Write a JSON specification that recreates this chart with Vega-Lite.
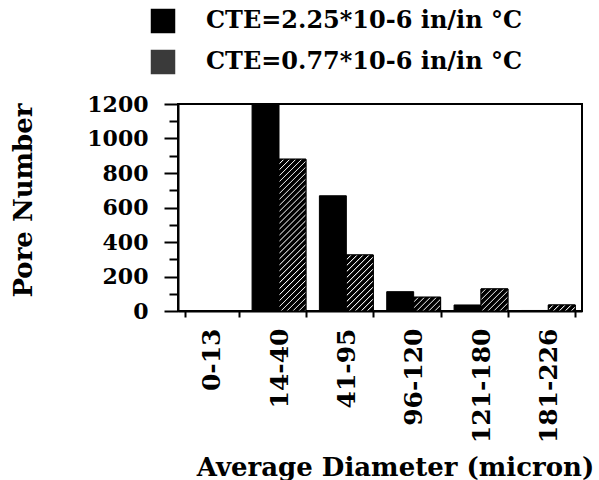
{
  "$schema": "https://vega.github.io/schema/vega-lite/v6.json",
  "width": 404,
  "height": 207,
  "autosize": {"type": "none"},
  "padding": {"left": 178, "top": 104, "right": 17, "bottom": 169},
  "background": "white",
  "config": {
    "font": "DejaVu Serif",
    "view": {"stroke": "black", "strokeWidth": 2},
    "axis": {
      "labelColor": "black",
      "labelFontWeight": "bold",
      "titleColor": "black",
      "titleFontWeight": "bold",
      "domainColor": "black",
      "domainWidth": 2,
      "tickColor": "black",
      "tickWidth": 2,
      "grid": false
    }
  },
  "data": {
    "values": [
      {"range": "0-13", "series": "CTE=2.25*10-6 in/in °C", "count": 0},
      {"range": "0-13", "series": "CTE=0.77*10-6 in/in °C", "count": 0},
      {"range": "14-40", "series": "CTE=2.25*10-6 in/in °C", "count": 1200},
      {"range": "14-40", "series": "CTE=0.77*10-6 in/in °C", "count": 880},
      {"range": "41-95", "series": "CTE=2.25*10-6 in/in °C", "count": 668},
      {"range": "41-95", "series": "CTE=0.77*10-6 in/in °C", "count": 325},
      {"range": "96-120", "series": "CTE=2.25*10-6 in/in °C", "count": 112},
      {"range": "96-120", "series": "CTE=0.77*10-6 in/in °C", "count": 80},
      {"range": "121-180", "series": "CTE=2.25*10-6 in/in °C", "count": 35},
      {"range": "121-180", "series": "CTE=0.77*10-6 in/in °C", "count": 128},
      {"range": "181-226", "series": "CTE=2.25*10-6 in/in °C", "count": 3},
      {"range": "181-226", "series": "CTE=0.77*10-6 in/in °C", "count": 35}
    ]
  },
  "encoding": {
    "x": {
      "field": "range",
      "type": "nominal",
      "scale": {"domain": ["0-13", "14-40", "41-95", "96-120", "121-180", "181-226"], "paddingInner": 0.2, "paddingOuter": 0.1},
      "axis": {
        "tickBand": "extent",
        "labelAngle": 270,
        "labelFontSize": 25,
        "tickSize": 6,
        "labelPadding": 11,
        "title": "Average Diameter (micron)",
        "titleFontSize": 26,
        "titleX": 217,
        "titleY": 164,
        "titleAlign": "center",
        "titleAnchor": "middle",
        "titleBaseline": "alphabetic"
      }
    },
    "xOffset": {"field": "series", "type": "nominal", "scale": {"domain": ["CTE=2.25*10-6 in/in °C", "CTE=0.77*10-6 in/in °C"], "paddingInner": 0}},
    "y": {
      "field": "count",
      "type": "quantitative",
      "scale": {"domain": [0, 1200], "nice": false},
      "axis": {
        "values": [0, 100, 200, 300, 400, 500, 600, 700, 800, 900, 1000, 1100, 1200],
        "labelExpr": "datum.value % 200 === 0 ? datum.label : ''",
        "tickSize": {"condition": {"test": "datum.value % 200 === 0", "value": 14}, "value": 9},
        "labelFontSize": 22,
        "labelPadding": 16,
        "format": "d",
        "title": "Pore Number",
        "titleFontSize": 26,
        "titleX": -147,
        "titleY": 96,
        "titleAlign": "center",
        "titleAnchor": "middle",
        "titleBaseline": "alphabetic"
      }
    }
  },
  "layer": [
    {
      "mark": {"type": "bar", "stroke": "black", "strokeWidth": 1},
      "encoding": {
        "color": {
          "field": "series",
          "type": "nominal",
          "scale": {"domain": ["CTE=2.25*10-6 in/in °C", "CTE=0.77*10-6 in/in °C"], "range": ["black", "#3a3a3a"]},
          "legend": {
            "orient": "none",
            "legendX": -28,
            "legendY": -96,
            "title": null,
            "padding": 0,
            "symbolType": "square",
            "symbolSize": 600,
            "symbolStrokeColor": "black",
            "symbolStrokeWidth": 1,
            "labelFontSize": 24,
            "labelFontWeight": "bold",
            "labelColor": "black",
            "labelOffset": 30,
            "rowPadding": 11,
            "labelLimit": 400,
            "encode": {
              "symbols": {
                "update": {
                  "fill": {
                    "condition": {
                      "test": "datum.value === 'CTE=0.77*10-6 in/in °C'",
                      "value": {
                        "gradient": "linear", "x1": 0, "y1": 0, "x2": 1, "y2": 1,
                        "stops": [
                          {"offset": 0, "color": "black"}, {"offset": 0.0796, "color": "black"}, {"offset": 0.0979, "color": "white"},
                          {"offset": 0.1224, "color": "black"}, {"offset": 0.202, "color": "black"}, {"offset": 0.2203, "color": "white"},
                          {"offset": 0.2448, "color": "black"}, {"offset": 0.3244, "color": "black"}, {"offset": 0.3427, "color": "white"},
                          {"offset": 0.3672, "color": "black"}, {"offset": 0.4468, "color": "black"}, {"offset": 0.4651, "color": "white"},
                          {"offset": 0.4896, "color": "black"}, {"offset": 0.5692, "color": "black"}, {"offset": 0.5875, "color": "white"},
                          {"offset": 0.612, "color": "black"}, {"offset": 0.6916, "color": "black"}, {"offset": 0.7099, "color": "white"},
                          {"offset": 0.7344, "color": "black"}, {"offset": 0.814, "color": "black"}, {"offset": 0.8323, "color": "white"},
                          {"offset": 0.8568, "color": "black"}, {"offset": 0.9364, "color": "black"}, {"offset": 0.9547, "color": "white"},
                          {"offset": 0.9792, "color": "black"}, {"offset": 1, "color": "black"}
                        ]
                      }
                    },
                    "value": "black"
                  }
                }
              }
            }
          }
        }
      }
    },
    {
      "transform": [{"filter": "datum.series === 'CTE=0.77*10-6 in/in °C' && datum.range === '14-40'"}],
      "mark": {
        "type": "bar",
        "stroke": "black",
        "strokeWidth": 1,
        "fill": {
          "gradient": "linear", "x1": 0, "y1": 0, "x2": 0.202, "y2": 1.141,
          "stops": [
            {"offset": 0, "color": "black"}, {"offset": 0.0217, "color": "black"}, {"offset": 0.0267, "color": "white"},
            {"offset": 0.0333, "color": "black"}, {"offset": 0.055, "color": "black"}, {"offset": 0.06, "color": "white"},
            {"offset": 0.0667, "color": "black"}, {"offset": 0.0883, "color": "black"}, {"offset": 0.0933, "color": "white"},
            {"offset": 0.1, "color": "black"}, {"offset": 0.1217, "color": "black"}, {"offset": 0.1267, "color": "white"},
            {"offset": 0.1333, "color": "black"}, {"offset": 0.155, "color": "black"}, {"offset": 0.16, "color": "white"},
            {"offset": 0.1667, "color": "black"}, {"offset": 0.1883, "color": "black"}, {"offset": 0.1933, "color": "white"},
            {"offset": 0.2, "color": "black"}, {"offset": 0.2217, "color": "black"}, {"offset": 0.2267, "color": "white"},
            {"offset": 0.2333, "color": "black"}, {"offset": 0.255, "color": "black"}, {"offset": 0.26, "color": "white"},
            {"offset": 0.2667, "color": "black"}, {"offset": 0.2883, "color": "black"}, {"offset": 0.2933, "color": "white"},
            {"offset": 0.3, "color": "black"}, {"offset": 0.3217, "color": "black"}, {"offset": 0.3267, "color": "white"},
            {"offset": 0.3333, "color": "black"}, {"offset": 0.355, "color": "black"}, {"offset": 0.36, "color": "white"},
            {"offset": 0.3667, "color": "black"}, {"offset": 0.3883, "color": "black"}, {"offset": 0.3933, "color": "white"},
            {"offset": 0.4, "color": "black"}, {"offset": 0.4217, "color": "black"}, {"offset": 0.4267, "color": "white"},
            {"offset": 0.4333, "color": "black"}, {"offset": 0.455, "color": "black"}, {"offset": 0.46, "color": "white"},
            {"offset": 0.4667, "color": "black"}, {"offset": 0.4883, "color": "black"}, {"offset": 0.4933, "color": "white"},
            {"offset": 0.5, "color": "black"}, {"offset": 0.5217, "color": "black"}, {"offset": 0.5267, "color": "white"},
            {"offset": 0.5333, "color": "black"}, {"offset": 0.555, "color": "black"}, {"offset": 0.56, "color": "white"},
            {"offset": 0.5667, "color": "black"}, {"offset": 0.5883, "color": "black"}, {"offset": 0.5933, "color": "white"},
            {"offset": 0.6, "color": "black"}, {"offset": 0.6217, "color": "black"}, {"offset": 0.6267, "color": "white"},
            {"offset": 0.6333, "color": "black"}, {"offset": 0.655, "color": "black"}, {"offset": 0.66, "color": "white"},
            {"offset": 0.6667, "color": "black"}, {"offset": 0.6883, "color": "black"}, {"offset": 0.6933, "color": "white"},
            {"offset": 0.7, "color": "black"}, {"offset": 0.7217, "color": "black"}, {"offset": 0.7267, "color": "white"},
            {"offset": 0.7333, "color": "black"}, {"offset": 0.755, "color": "black"}, {"offset": 0.76, "color": "white"},
            {"offset": 0.7667, "color": "black"}, {"offset": 0.7883, "color": "black"}, {"offset": 0.7933, "color": "white"},
            {"offset": 0.8, "color": "black"}, {"offset": 0.8217, "color": "black"}, {"offset": 0.8267, "color": "white"},
            {"offset": 0.8333, "color": "black"}, {"offset": 0.855, "color": "black"}, {"offset": 0.86, "color": "white"},
            {"offset": 0.8667, "color": "black"}, {"offset": 0.8883, "color": "black"}, {"offset": 0.8933, "color": "white"},
            {"offset": 0.9, "color": "black"}, {"offset": 0.9217, "color": "black"}, {"offset": 0.9267, "color": "white"},
            {"offset": 0.9333, "color": "black"}, {"offset": 0.955, "color": "black"}, {"offset": 0.96, "color": "white"},
            {"offset": 0.9667, "color": "black"}, {"offset": 0.9883, "color": "black"}, {"offset": 0.9933, "color": "white"},
            {"offset": 1, "color": "black"}
          ]
        }
      }
    },
    {
      "transform": [{"filter": "datum.series === 'CTE=0.77*10-6 in/in °C' && datum.range === '41-95'"}],
      "mark": {
        "type": "bar",
        "stroke": "black",
        "strokeWidth": 1,
        "fill": {
          "gradient": "linear", "x1": 0, "y1": 0, "x2": 0.5778, "y2": 1.2028,
          "stops": [
            {"offset": 0, "color": "black"}, {"offset": 0.047, "color": "black"}, {"offset": 0.0578, "color": "white"},
            {"offset": 0.0723, "color": "black"}, {"offset": 0.1193, "color": "black"}, {"offset": 0.1301, "color": "white"},
            {"offset": 0.1446, "color": "black"}, {"offset": 0.1916, "color": "black"}, {"offset": 0.2024, "color": "white"},
            {"offset": 0.2169, "color": "black"}, {"offset": 0.2639, "color": "black"}, {"offset": 0.2747, "color": "white"},
            {"offset": 0.2892, "color": "black"}, {"offset": 0.3362, "color": "black"}, {"offset": 0.347, "color": "white"},
            {"offset": 0.3615, "color": "black"}, {"offset": 0.4085, "color": "black"}, {"offset": 0.4193, "color": "white"},
            {"offset": 0.4338, "color": "black"}, {"offset": 0.4808, "color": "black"}, {"offset": 0.4916, "color": "white"},
            {"offset": 0.5061, "color": "black"}, {"offset": 0.5531, "color": "black"}, {"offset": 0.5639, "color": "white"},
            {"offset": 0.5784, "color": "black"}, {"offset": 0.6254, "color": "black"}, {"offset": 0.6362, "color": "white"},
            {"offset": 0.6507, "color": "black"}, {"offset": 0.6977, "color": "black"}, {"offset": 0.7085, "color": "white"},
            {"offset": 0.723, "color": "black"}, {"offset": 0.77, "color": "black"}, {"offset": 0.7808, "color": "white"},
            {"offset": 0.7953, "color": "black"}, {"offset": 0.8423, "color": "black"}, {"offset": 0.8531, "color": "white"},
            {"offset": 0.8676, "color": "black"}, {"offset": 0.9146, "color": "black"}, {"offset": 0.9254, "color": "white"},
            {"offset": 0.9399, "color": "black"}, {"offset": 0.9869, "color": "black"}, {"offset": 1, "color": "white"}
          ]
        }
      }
    },
    {
      "transform": [{"filter": "datum.series === 'CTE=0.77*10-6 in/in °C' && datum.range === '96-120'"}],
      "mark": {
        "type": "bar",
        "stroke": "black",
        "strokeWidth": 1,
        "fill": {
          "gradient": "linear", "x1": 0, "y1": 0, "x2": 1.198, "y2": 0.6139,
          "stops": [
            {"offset": 0, "color": "black"}, {"offset": 0.0957, "color": "black"}, {"offset": 0.1178, "color": "white"},
            {"offset": 0.1473, "color": "black"}, {"offset": 0.243, "color": "black"}, {"offset": 0.2651, "color": "white"},
            {"offset": 0.2946, "color": "black"}, {"offset": 0.3903, "color": "black"}, {"offset": 0.4124, "color": "white"},
            {"offset": 0.4419, "color": "black"}, {"offset": 0.5376, "color": "black"}, {"offset": 0.5597, "color": "white"},
            {"offset": 0.5892, "color": "black"}, {"offset": 0.6849, "color": "black"}, {"offset": 0.707, "color": "white"},
            {"offset": 0.7365, "color": "black"}, {"offset": 0.8322, "color": "black"}, {"offset": 0.8543, "color": "white"},
            {"offset": 0.8838, "color": "black"}, {"offset": 0.9795, "color": "black"}, {"offset": 1, "color": "white"}
          ]
        }
      }
    },
    {
      "transform": [{"filter": "datum.series === 'CTE=0.77*10-6 in/in °C' && datum.range === '121-180'"}],
      "mark": {
        "type": "bar",
        "stroke": "black",
        "strokeWidth": 1,
        "fill": {
          "gradient": "linear", "x1": 0, "y1": 0, "x2": 1.0883, "y2": 0.8923,
          "stops": [
            {"offset": 0, "color": "black"}, {"offset": 0.0796, "color": "black"}, {"offset": 0.0979, "color": "white"},
            {"offset": 0.1224, "color": "black"}, {"offset": 0.202, "color": "black"}, {"offset": 0.2203, "color": "white"},
            {"offset": 0.2448, "color": "black"}, {"offset": 0.3244, "color": "black"}, {"offset": 0.3427, "color": "white"},
            {"offset": 0.3672, "color": "black"}, {"offset": 0.4468, "color": "black"}, {"offset": 0.4651, "color": "white"},
            {"offset": 0.4896, "color": "black"}, {"offset": 0.5692, "color": "black"}, {"offset": 0.5875, "color": "white"},
            {"offset": 0.612, "color": "black"}, {"offset": 0.6916, "color": "black"}, {"offset": 0.7099, "color": "white"},
            {"offset": 0.7344, "color": "black"}, {"offset": 0.814, "color": "black"}, {"offset": 0.8323, "color": "white"},
            {"offset": 0.8568, "color": "black"}, {"offset": 0.9364, "color": "black"}, {"offset": 0.9547, "color": "white"},
            {"offset": 0.9792, "color": "black"}, {"offset": 1, "color": "black"}
          ]
        }
      }
    },
    {
      "transform": [{"filter": "datum.series === 'CTE=0.77*10-6 in/in °C' && datum.range === '181-226'"}],
      "mark": {
        "type": "bar",
        "stroke": "black",
        "strokeWidth": 1,
        "fill": {
          "gradient": "linear", "x1": 0, "y1": 0, "x2": 1.1657, "y2": 0.2614,
          "stops": [
            {"offset": 0, "color": "black"}, {"offset": 0.1183, "color": "black"}, {"offset": 0.1456, "color": "white"},
            {"offset": 0.182, "color": "black"}, {"offset": 0.3003, "color": "black"}, {"offset": 0.3276, "color": "white"},
            {"offset": 0.364, "color": "black"}, {"offset": 0.4823, "color": "black"}, {"offset": 0.5096, "color": "white"},
            {"offset": 0.546, "color": "black"}, {"offset": 0.6643, "color": "black"}, {"offset": 0.6916, "color": "white"},
            {"offset": 0.728, "color": "black"}, {"offset": 0.8463, "color": "black"}, {"offset": 0.8736, "color": "white"},
            {"offset": 0.91, "color": "black"}, {"offset": 1, "color": "black"}
          ]
        }
      }
    }
  ]
}
